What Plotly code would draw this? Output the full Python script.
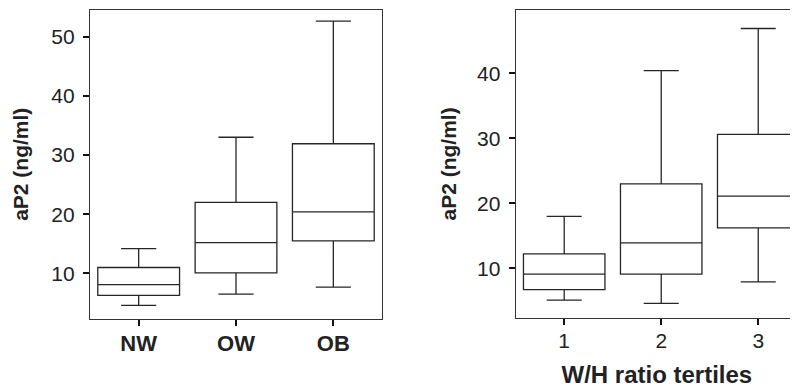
import plotly.graph_objects as go

# The page body has an 8px default margin, so the figure is laid out in the visible 790x380 area.
W, H = 790, 380
OFF = 8

# Left panel: BMI groups
groups = ["NW", "OW", "OB"]
g_lower = [4.6, 6.5, 7.7]
g_q1 = [6.3, 10.1, 15.5]
g_median = [8.1, 15.2, 20.4]
g_q3 = [11.0, 22.0, 31.9]
g_upper = [14.2, 33.0, 52.6]

# Right panel: W/H ratio tertiles
tertiles = [1, 2, 3]
t_lower = [5.1, 4.6, 7.9]
t_q1 = [6.7, 9.1, 16.2]
t_median = [9.1, 13.9, 21.1]
t_q3 = [12.2, 23.0, 30.6]
t_upper = [18.0, 40.4, 46.9]

left_ticks = [10, 20, 30, 40, 50]
right_ticks = [10, 20, 30, 40]

FONT = "Liberation Sans, Arial, sans-serif"
LINE = "#262626"

fig = go.Figure()

box_style = dict(
    line=dict(color=LINE, width=1.3),
    fillcolor="white",
    width=0.84,
    whiskerwidth=0.43,
    boxpoints=False,
    hoverinfo="skip",
    showlegend=False,
)

fig.add_trace(go.Box(
    x=list(range(len(groups))), q1=g_q1, median=g_median, q3=g_q3,
    lowerfence=g_lower, upperfence=g_upper,
    xaxis="x", yaxis="y", **box_style))

fig.add_trace(go.Box(
    x=tertiles, q1=t_q1, median=t_median, q3=t_q3,
    lowerfence=t_lower, upperfence=t_upper,
    xaxis="x2", yaxis="y2", **box_style))

ax_common = dict(
    showgrid=False, zeroline=False, showline=True, linecolor="#333333", linewidth=1.3,
    ticks="outside", ticklen=6, tickwidth=2, tickcolor="#111111", automargin=False,
)


def xd(a, b):
    return [(a - OFF) / W, min(1.0, (b - OFF) / W)]


def yd(top, bottom):
    return [(H - (bottom - OFF)) / H, min(1.0, (H - (top - OFF)) / H)]


fig.update_layout(
    template="none",
    width=W, height=H,
    margin=dict(l=0, r=0, t=0, b=0, pad=0),
    paper_bgcolor="white", plot_bgcolor="white",
    font=dict(family=FONT, color="#222222", size=20),
    xaxis=dict(domain=xd(90, 382), anchor="y", range=[-0.5, 2.5],
               tickvals=list(range(len(groups))),
               ticktext=["<b>%s</b>" % g for g in groups],
               tickfont=dict(size=22, color="#222222"), ticklabelstandoff=-2,
               mirror=True, **ax_common),
    yaxis=dict(domain=yd(9.5, 319), anchor="x", range=[2.3, 54.58],
               tickvals=left_ticks, tickfont=dict(size=21), ticklabelstandoff=4,
               title=dict(text="<b>aP2 (ng/ml)</b>", font=dict(size=21), standoff=16),
               mirror=True, **ax_common),
    xaxis2=dict(domain=xd(515.7, 798), anchor="y2", range=[0.5, 3.41],
                tickvals=tertiles, ticktext=[str(t) for t in tertiles],
                tickfont=dict(size=21), ticklabelstandoff=-3,
                title=dict(text="<b>W/H ratio tertiles</b>", font=dict(size=24), standoff=16),
                mirror=True, **ax_common),
    yaxis2=dict(domain=yd(9.5, 318.3), anchor="x2", range=[2.3, 49.82],
                tickvals=right_ticks, tickfont=dict(size=21), ticklabelstandoff=4,
                title=dict(text="<b>aP2 (ng/ml)</b>", font=dict(size=21), standoff=14),
                **ax_common),
)

fig.write_html("out.html")
